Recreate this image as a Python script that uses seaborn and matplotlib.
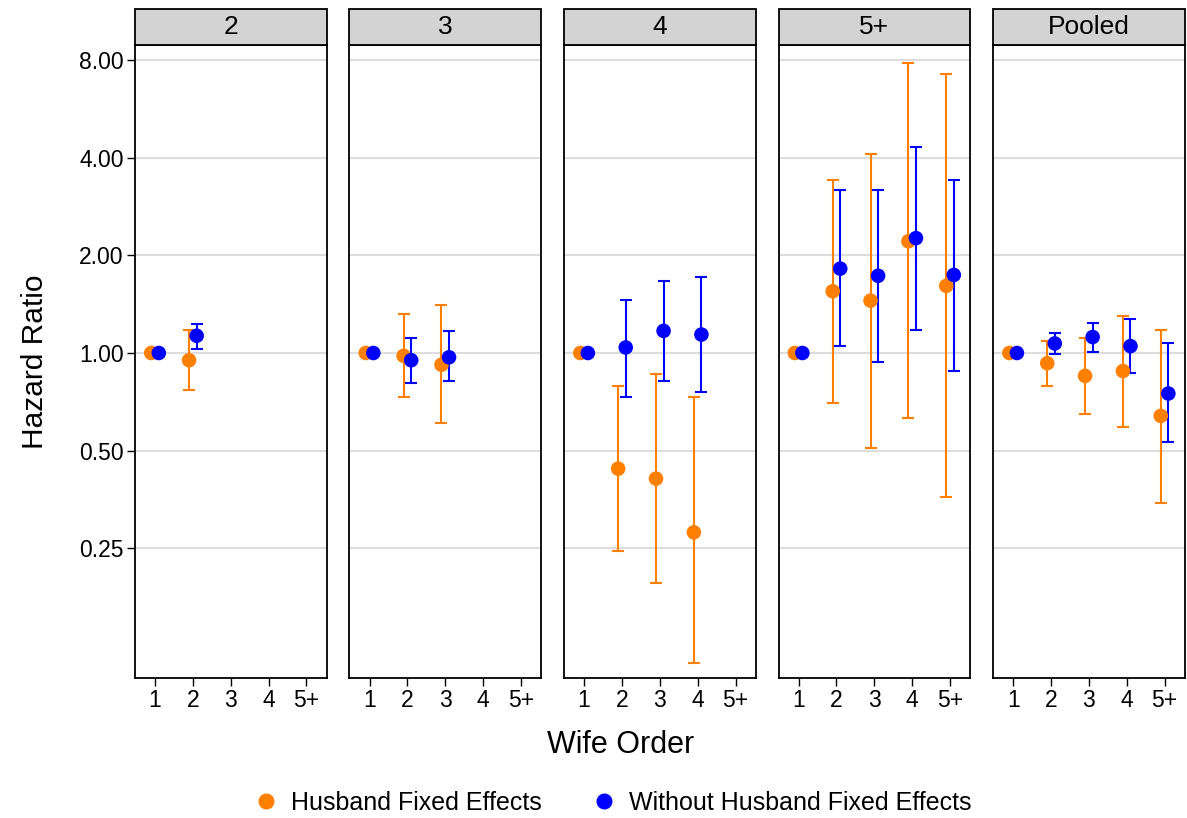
import numpy as np
import pandas as pd
import matplotlib.pyplot as plt
import seaborn as sns
from matplotlib.lines import Line2D
from matplotlib.patches import Rectangle

nan = np.nan

panels = ['2', '3', '4', '5+', 'Pooled']
orders = ['1', '2', '3', '4', '5+']

# one row per (panel, wife order)
row_panel = ['2', '2',
             '3', '3', '3',
             '4', '4', '4', '4',
             '5+', '5+', '5+', '5+', '5+',
             'Pooled', 'Pooled', 'Pooled', 'Pooled', 'Pooled']
row_order = ['1', '2',
             '1', '2', '3',
             '1', '2', '3', '4',
             '1', '2', '3', '4', '5+',
             '1', '2', '3', '4', '5+']

# Husband Fixed Effects
hfe_est = [1.00, 0.95, 1.00, 0.98, 0.92, 1.00, 0.44, 0.41, 0.28,
           1.00, 1.55, 1.45, 2.21, 1.61, 1.00, 0.93, 0.85, 0.88, 0.64]
hfe_lo = [nan, 0.77, nan, 0.73, 0.61, nan, 0.246, 0.196, 0.111,
          nan, 0.70, 0.51, 0.63, 0.36, nan, 0.79, 0.65, 0.59, 0.346]
hfe_hi = [nan, 1.18, nan, 1.32, 1.41, nan, 0.79, 0.86, 0.73,
          nan, 3.42, 4.12, 7.82, 7.23, nan, 1.09, 1.11, 1.30, 1.18]

# Without Husband Fixed Effects
nofe_est = [1.00, 1.13, 1.00, 0.95, 0.97, 1.00, 1.04, 1.17, 1.14,
            1.00, 1.82, 1.73, 2.26, 1.74, 1.00, 1.07, 1.12, 1.05, 0.75]
nofe_lo = [nan, 1.03, nan, 0.81, 0.82, nan, 0.73, 0.82, 0.76,
           nan, 1.05, 0.94, 1.18, 0.88, nan, 0.99, 1.01, 0.87, 0.53]
nofe_hi = [nan, 1.23, nan, 1.11, 1.17, nan, 1.46, 1.67, 1.71,
           nan, 3.19, 3.19, 4.31, 3.41, nan, 1.15, 1.24, 1.27, 1.07]

series_names = ['Husband Fixed Effects', 'Without Husband Fixed Effects']
colors = {'Husband Fixed Effects': '#FF8000',
          'Without Husband Fixed Effects': '#0000FF'}
dodge = {'Husband Fixed Effects': -0.1, 'Without Husband Fixed Effects': 0.1}

frames = []
for name, est, lo, hi in [(series_names[0], hfe_est, hfe_lo, hfe_hi),
                          (series_names[1], nofe_est, nofe_lo, nofe_hi)]:
    frames.append(pd.DataFrame({'panel': row_panel, 'order': row_order,
                                'series': name, 'est': est, 'lo': lo, 'hi': hi}))
df = pd.concat(frames, ignore_index=True)
df['xpos'] = df['order'].map(lambda o: orders.index(o) + 1) + df['series'].map(dodge)

sns.set_style('white')
plt.rcParams['font.family'] = ['Liberation Sans', 'DejaVu Sans']
plt.rcParams['text.color'] = 'black'
plt.rcParams['axes.labelcolor'] = 'black'
plt.rcParams['xtick.color'] = 'black'
plt.rcParams['ytick.color'] = 'black'


def draw(data, **kws):
    ax = plt.gca()
    for name in series_names:
        sub = data[data['series'] == name]
        bars = sub.dropna(subset=['lo', 'hi'])
        ax.errorbar(bars['xpos'], bars['est'],
                    yerr=[bars['est'] - bars['lo'], bars['hi'] - bars['est']],
                    fmt='none', ecolor=colors[name], elinewidth=1.5,
                    capsize=4.5, capthick=1.5, zorder=3)
        sns.scatterplot(data=sub, x='xpos', y='est', color=colors[name],
                        s=110, edgecolor='none', ax=ax, zorder=4)


g = sns.FacetGrid(df, col='panel', col_order=panels, sharex=True, sharey=True,
                  height=6, aspect=0.3)
g.map_dataframe(draw)

fig = g.figure
fig.set_size_inches(11.87, 8.18)
fig.subplots_adjust(left=0.1137, right=0.998, top=0.945, bottom=0.171, wspace=0.12)

yt = [0.25, 0.5, 1, 2, 4, 8]
for ax, p in zip(g.axes.flat, panels):
    ax.set_yscale('log', base=2)
    ax.set_ylim(0.0995, 8.9)
    ax.set_xlim(0.47, 5.53)
    ax.set_yticks(yt)
    ax.set_yticklabels([f'{v:.2f}' for v in yt])
    ax.minorticks_off()
    ax.set_xticks([1, 2, 3, 4, 5])
    ax.set_xticklabels(orders)
    ax.set_title('')
    ax.set_xlabel('')
    ax.set_ylabel('')
    for y in yt:
        ax.axhline(y, color='#DDDDDD', lw=1.5, zorder=1)
    for s in ax.spines.values():
        s.set_visible(True)
        s.set_color('black')
        s.set_linewidth(1.3)
    ax.tick_params(axis='both', which='major', direction='out', length=6,
                   width=1, color='black', labelsize=16.5, pad=2, bottom=True)
    # strip header
    ax.add_patch(Rectangle((0, 1.0), 1, 0.057, transform=ax.transAxes,
                           facecolor='#D3D3D3', edgecolor='black', lw=1.3,
                           clip_on=False, zorder=5))
    ax.text(0.5, 1.0285, p, transform=ax.transAxes, ha='center', va='center',
            fontsize=19, zorder=6)

g.axes.flat[0].tick_params(axis='y', left=True)
g.axes.flat[0].set_ylabel('Hazard Ratio', fontsize=21.5, labelpad=22)
for ax in g.axes.flat[1:]:
    ax.tick_params(axis='y', left=False)

fig.text(621 / 1187, 1 - 745 / 818, 'Wife Order', ha='center', va='center', fontsize=22)

handles = [Line2D([], [], marker='o', ls='none', color=colors[n], markersize=10.5)
           for n in series_names]
fig.legend(handles, series_names, loc='center', bbox_to_anchor=(0.5157, 1 - 803 / 818),
           ncol=2, frameon=False, fontsize=18, handlelength=1.0,
           handletextpad=0.5, columnspacing=2.0)

fig.savefig('out.png', dpi=100)
